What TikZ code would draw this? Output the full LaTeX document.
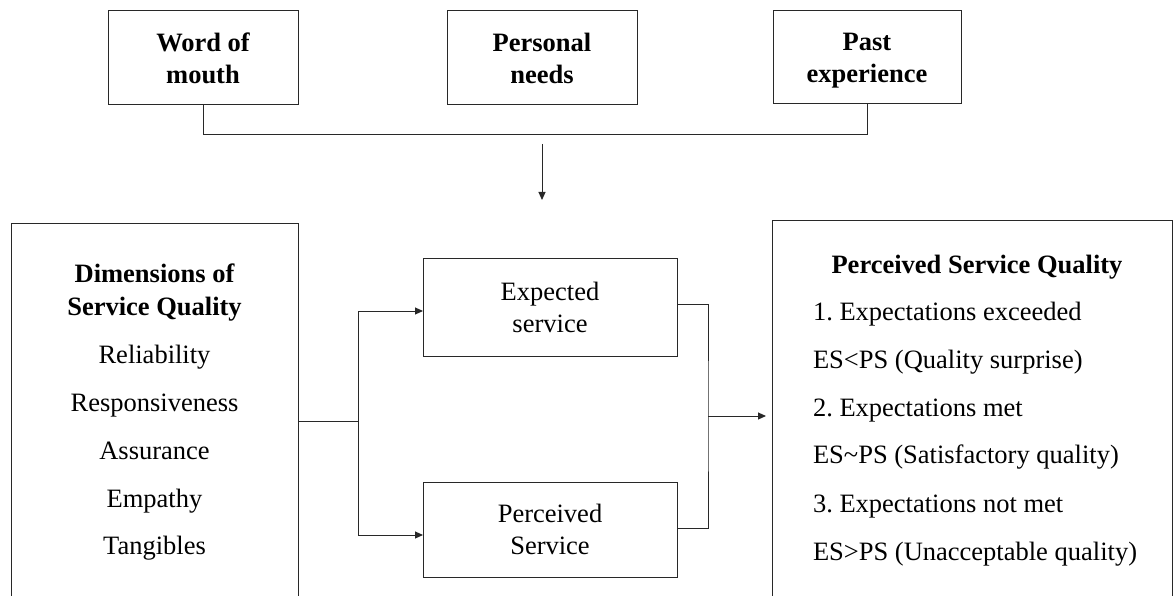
\documentclass[tikz,border=0pt]{standalone}
\usepackage{fontspec}
\setmainfont{Liberation Serif}
\usetikzlibrary{arrows.meta}
\definecolor{linec}{RGB}{40,40,40}
\frenchspacing
\begin{document}
\begin{tikzpicture}[x=1pt,y=1pt,
  every node/.style={inner sep=0pt, outer sep=0pt},
  box/.style={draw=linec, line width=1pt, anchor=north west, align=center},
  topbox/.style={box, minimum width=190pt, minimum height=94pt, text depth=0pt, font=\bfseries\fontsize{26.5}{32}\selectfont},
  midbox/.style={box, minimum width=254pt, text depth=0pt, font=\fontsize{26.5}{32}\selectfont},
  bigbox/.style={box, minimum height=420pt},
  txt/.style={anchor=base, font=\fontsize{26.5}{32}\selectfont},
  ttl/.style={anchor=base, font=\bfseries\fontsize{26.5}{32}\selectfont},
  lst/.style={anchor=base west, font=\fontsize{26.5}{32}\selectfont},
  conn/.style={draw=linec, line width=1pt},
  arr/.style={conn, -{Triangle[length=8pt,width=7pt]}}
]
\path[use as bounding box] (0,0) rectangle (1173,-596);
\clip (0,0) rectangle (1173,-596);

% top boxes
\node[topbox] (wom) at (108,-11) {Word of\\mouth};
\node[topbox] (pn) at (447,-11) {Personal\\needs};
\node[topbox, minimum width=188pt, minimum height=93pt] (pe) at (773,-11) {Past\vphantom{d}\\experience};
\draw[conn] (wom.south) -- ++(0,-30) -| (pe.south);
\coordinate (a1) at ([yshift=-39pt]pn.south);
\coordinate (a2) at ([yshift=-95pt]pn.south);
\draw[arr] (a1) -- (a2);

% left box
\node[bigbox, minimum width=287pt] (dim) at (11,-224) {};
\node[ttl] (d1) at (154.5,-283) {Dimensions of};
\node[ttl] (d2) at (154.5,-315) {Service Quality};
\node[txt] (d3) at (154.5,-363) {Reliability};
\node[txt] (d4) at (154.5,-411) {Responsiveness};
\node[txt] (d5) at (154.5,-459) {Assurance};
\node[txt] (d6) at (154.5,-507) {Empathy};
\node[txt] (d7) at (154.5,-554) {Tangibles};

% middle boxes
\node[midbox, minimum height=97pt] (es) at (423,-259) {Expected\\service};
\node[midbox, minimum height=95pt] (ps) at (423,-482) {Perceived\\Service};

\coordinate (j1) at (358,-421);
\draw[conn] (j1 -| dim.east) -- (j1);
\draw[arr] (j1) |- ([yshift=-3.5pt]es.west);
\draw[arr] (j1) |- ([yshift=-5.5pt]ps.west);

% right box
\node[bigbox, minimum width=400pt] (psq) at (772,-221) {};
\coordinate (j2) at (708,-416);
\draw[conn] ([yshift=3.5pt]es.east) -| (j2) |- ([yshift=1.5pt]ps.east);
\draw[arr, shorten >=6pt] (j2) -- (j2 -| psq.west);

\node[ttl] (q0) at (977,-273) {Perceived Service Quality};
\node[lst] (q1) at (813,-320) {1. Expectations exceeded};
\node[lst] (q2) at (813,-368) {ES<PS (Quality surprise)};
\node[lst] (q3) at (813,-416) {2. Expectations met};
\node[lst] (q4) at (813,-463) {ES\textasciitilde PS (Satisfactory quality)};
\node[lst] (q5) at (813,-512) {3. Expectations not met};
\node[lst] (q6) at (813,-560) {ES>PS (Unacceptable quality)};
\end{tikzpicture}
\end{document}
